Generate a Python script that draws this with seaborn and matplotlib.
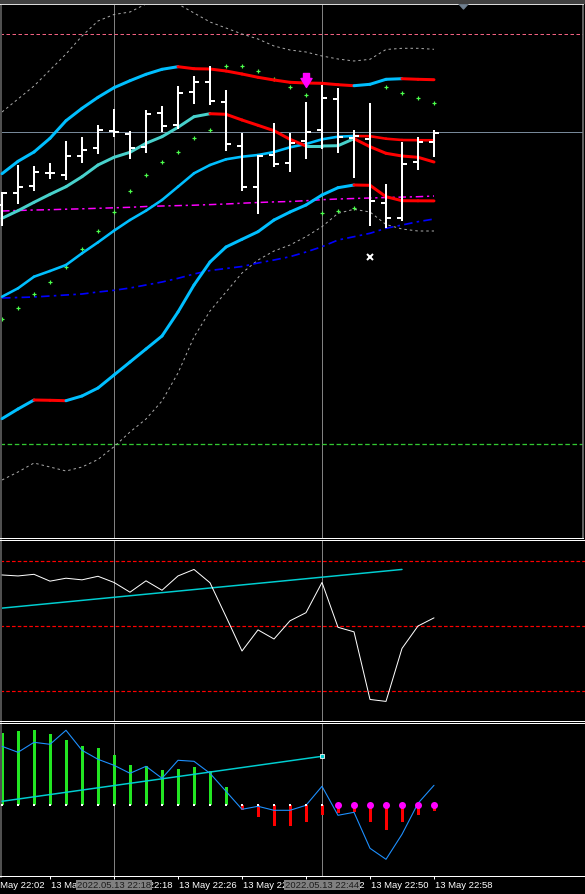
import numpy as np
import pandas as pd
import matplotlib
matplotlib.use("Agg")
import matplotlib.pyplot as plt
import seaborn as sns
from matplotlib.path import Path
from matplotlib.transforms import blended_transform_factory

# --- price window (arbitrary price units) ---
bar_open = [335, 347.3, 354.3, 366.7, 365.3, 384.3, 392.3, 409.3, 406.3, 393.3,
            426.7, 415.3, 448.3, 458.3, 438.3, 394.3, 353.3, 385.3, 377.3, 399.3,
            410, 441.3, 402.3, 401, 337, 322.3, 378, 398]
bar_high = [348, 375, 374, 377, 399, 403, 415, 431, 409, 430,
            434.3, 454, 464, 474, 449.7, 407, 385, 416.7, 407.3, 438,
            455, 451.7, 410, 436.7, 356, 398.3, 402.7, 409.7]
bar_low = [314, 336, 349.3, 361, 360, 377.3, 386.3, 403.3, 381.3, 387.3,
           408.3, 410.7, 436.3, 435.3, 389.3, 349.3, 326.3, 373.3, 368.3, 380.7,
           390.7, 387.3, 362.5, 314.3, 312.3, 319.3, 370, 383.3]
bar_close = [347, 353.3, 368.3, 366.7, 384.3, 390.3, 410.3, 408.3, 392.3, 426.3,
             414.3, 446.7, 458, 439, 396.3, 353.3, 384.3, 376.3, 396.7, 408.3,
             442.3, 403, 404, 339, 322, 376, 398, 407]

band_upper = [366.3, 378.7, 388, 401.7, 419.3, 431.7, 442.7, 452.3, 459.3, 465.7,
              470.7, 473.3, 471.3, 471, 469, 466, 462.7, 460, 457.7, 457,
              456.7, 455.3, 454.3, 455.7, 460.7, 461.3, 460.7, 460.3]
band_mid = [321.7, 329.3, 337.7, 345.7, 353.3, 363.3, 375, 382.7, 387.7, 396.7,
            403.3, 412.7, 423.3, 426.3, 425.7, 420, 414.7, 409.3, 400.7, 394,
            394, 394.3, 401.3, 393.3, 386.7, 384, 382.7, 378]
band_inner = [243.3, 251.7, 263.3, 269, 275, 286.7, 297.7, 309.3, 320, 329.3,
              340, 353.3, 366.7, 375, 380.7, 383.3, 385, 388, 392.7, 396,
              400.7, 403.3, 404, 403.8, 401.3, 400, 399.8, 399.7]
band_lower = [121.3, 131, 140, 139.7, 139.3, 144, 152, 165, 178, 191,
              204, 228, 255, 278, 293, 300.7, 308.3, 320, 328, 335,
              345, 352.3, 355, 354.7, 343.3, 339.3, 339.2, 339.1]
env_top = [428, 441, 454, 470, 486, 504, 519, 525.5, 528, 536,
           543, 536, 527, 518, 512, 506, 501, 494, 490, 488,
           484, 481, 479, 480.7, 490.5, 491.7, 491.7, 490.7]
env_bottom = [60, 68, 77, 73, 69, 73, 80.5, 93.3, 108, 121,
              139, 167, 203, 229, 248, 267, 280, 289, 295, 303.3,
              313.3, 326.7, 330.7, 328, 315.5, 311, 309, 309]
ma_magenta = [329, 329.5, 330, 330.3, 330.8, 331.2, 331.7, 332.2, 332.7, 333.5,
              334, 334.4, 334.8, 335.4, 336, 336.8, 337.5, 338.1, 338.5, 339.3,
              340.3, 341, 341.5, 342, 342.5, 342.9, 343.3, 344]
ma_blue = [242, 242.5, 243, 244, 245, 246, 248, 249.7, 252, 255,
           258, 261.7, 266, 269.5, 271.5, 273.5, 277, 280, 283.3, 288,
           293.3, 300, 303.3, 306.7, 311.7, 315, 318.3, 321]
sar = [221, 231.7, 245.7, 258.5, 272.7, 290.7, 309, 327.7, 348.7, 364.7,
       377.7, 387.7, 401.7, 409.7, 473.7, 473.7, 468.7, 460.7, 452.7, 444.7,
       326.7, 328.7, 331.7, np.nan, 452.7, 446.7, 441.7, 436.7]
level_high = 506
bid_level = 408
level_low = 95.7
sell_arrow_bar, sell_arrow_val = 19, 459.7
cross_bar, cross_val = 23, 282.7

# --- oscillator window 1 ---
rsi = [65.7, 65.4, 65.9, 63.8, 64.7, 64.2, 65.3, 63.4, 60.4, 63.9,
       61.0, 65.4, 67.4, 63.3, 52.9, 42.3, 48.8, 46.0, 51.6, 54.1,
       63.4, 49.6, 48.2, 27.4, 26.8, 43.1, 50.0, 52.5]
rsi_levels = [70, 50, 30]
rsi_trend_bars = [0, 25]
rsi_trend_vals = [55.5, 67.4]

# --- oscillator window 2 ---
osc_hist = [7.2, 7.4, 7.5, 7.1, 6.5, 5.9, 5.7, 5.0, 4.0, 3.9,
            3.5, 3.6, 3.8, 3.4, 1.8, -0.5, -1.2, -2.1, -2.1, -1.7,
            -1.0, -0.8, -0.7, -1.7, -2.5, -1.7, -1.0, -0.6]
osc_line = [5.9, 5.3, 6.3, 6.1, 7.5, 5.5, 4.6, 4.0, 3.2, 3.9,
            2.7, 4.5, 4.4, 3.2, 1.4, -0.4, -0.1, -0.5, -0.5, 0.0,
            1.9, -1.0, -0.7, -4.3, -5.4, -2.9, 0.2, 2.0]
zero_flag = [0, 0, 0, 0, 0, 0, 0, 0, 0, 0,
             0, 0, 0, 0, 0, 0, 0, 0, 0, 0,
             0, 1, 1, 1, 1, 1, 1, 1]
osc_trend_bars = [0, 20]
osc_trend_vals = [0.4, 4.9]

# --- time axis ---
time_label_bars = [-1, 3, 7, 11, 15, 19, 23, 27]
time_labels = ["13 May 22:02", "13 May 22:10", "13 May 22:18", "13 May 22:26",
               "13 May 22:34", "13 May 22:42", "13 May 22:50", "13 May 22:58"]
grid_bars = [7, 20]
grid_labels = ["2022.05.13 22:18", "2022.05.13 22:44"]

W, H, DPI = 585, 894, 100
PX = 72 / DPI
BAR_PX = 16

sns.set_theme(style="dark", rc={"figure.facecolor": "black", "axes.facecolor": "black",
                                "savefig.facecolor": "black"})
plt.rcParams["font.family"] = ["Liberation Sans", "DejaVu Sans"]

fig = plt.figure(figsize=(W / DPI, H / DPI), dpi=DPI)
idx = np.arange(len(bar_open))


def make_axes(top, bottom, width, ylim):
    ax = fig.add_axes([0, 1 - bottom / H, width / W, (bottom - top) / H])
    ax.set_facecolor("black")
    ax.set_xlim(-2 / BAR_PX, (width - 2) / BAR_PX)
    ax.set_ylim(*ylim)
    ax.set_xticks([])
    ax.set_yticks([])
    for side in ("top", "bottom"):
        ax.spines[side].set_color("white")
        ax.spines[side].set_linewidth(PX)
    ax.spines["left"].set_color("#505050")
    ax.spines["left"].set_linewidth(3 * PX)
    ax.spines["right"].set_visible(False)
    for b in grid_bars:
        ax.axvline(b, color="#808080", lw=PX, zorder=1)
    return ax


def slope_line(ax, vals, up, down, lw, z=3):
    for i in range(len(vals) - 1):
        c = up if vals[i + 1] >= vals[i] else down
        ax.plot([i, i + 1], [vals[i], vals[i + 1]], color=c, lw=lw,
                solid_capstyle="round", zorder=z)


# ---------------- main window ----------------
ax = make_axes(4, 538, 583, (2, 536))
ax.spines["right"].set_visible(True)
ax.spines["right"].set_color("#808080")
ax.spines["right"].set_linewidth(1.5 * PX)

ax.axhline(level_high, color="#f06080", lw=PX, dashes=(3.5, 2.5), zorder=1)
ax.axhline(bid_level, color="#778899", lw=PX, zorder=1)
ax.axhline(level_low, color="#32c832", lw=1.3 * PX, dashes=(3.5, 2), zorder=1)

ax.plot(idx, env_top, color="#a8a8a8", lw=PX, dashes=(2.5, 3), zorder=2)
ax.plot(idx, env_bottom, color="#a8a8a8", lw=PX, dashes=(2.5, 3), zorder=2)
ax.plot(idx, ma_magenta, color="#ff00ff", lw=1.5 * PX, dashes=(5, 2.5, 1.5, 2.5), zorder=2)
ax.plot(idx, ma_blue, color="#0000ff", lw=1.7 * PX, dashes=(5, 2.5, 1.5, 2.5), zorder=2)

slope_line(ax, band_lower, "#00bfff", "#ff0000", 3 * PX)
slope_line(ax, band_inner, "#00bfff", "#ff0000", 2.6 * PX)
slope_line(ax, band_mid, "#48d1cc", "#ff0000", 3 * PX, z=3.2)
slope_line(ax, band_upper, "#00bfff", "#ff0000", 3 * PX)

ax.plot(idx, sar, linestyle="none", marker="+", ms=4 * PX, mew=1.2 * PX,
        color="#4cff4c", zorder=2.5)

ax.vlines(idx, bar_low, bar_high, color="white", lw=2 * PX, zorder=4)
ax.hlines(bar_open, idx - 0.3, idx, color="white", lw=2 * PX, zorder=4, capstyle="butt")
ax.hlines(bar_close, idx, idx + 0.3, color="white", lw=2 * PX, zorder=4, capstyle="butt")

arrow = Path([(-0.43, 1), (0.43, 1), (0.43, 0.29), (0.79, 0.29), (0, -1),
              (-0.79, 0.29), (-0.43, 0.29), (-0.43, 1)],
             [Path.MOVETO] + [Path.LINETO] * 6 + [Path.CLOSEPOLY])
ax.plot([sell_arrow_bar], [sell_arrow_val], linestyle="none", marker=arrow,
        ms=14 * PX, color="#ff00ff", mec="#ff00ff", zorder=5)
ax.plot([cross_bar], [cross_val], linestyle="none", marker="x", ms=6 * PX,
        mew=2 * PX, color="white", zorder=5)

shift_tri = Path([(-1, 0.55), (1, 0.55), (0, -0.55), (-1, 0.55)],
                 [Path.MOVETO, Path.LINETO, Path.LINETO, Path.CLOSEPOLY])
ax.plot([28.8], [0.9966], transform=blended_transform_factory(ax.transData, ax.transAxes),
        marker=shift_tri, ms=9 * PX, color="#708090", linestyle="none",
        clip_on=False, zorder=6)

# ---------------- RSI window ----------------
ax1 = make_axes(540, 721, W, (20.77, 76.46))
for lv in rsi_levels:
    ax1.axhline(lv, color="#ff0000", lw=1.2 * PX, dashes=(3, 1.8), zorder=1)
ax1.plot(rsi_trend_bars, rsi_trend_vals, color="#00ced1", lw=1.5 * PX, zorder=2)
sns.lineplot(x=idx, y=rsi, ax=ax1, color="white", lw=PX, zorder=3)
ax1.set(xlabel="", ylabel="")

# ---------------- histogram window ----------------
ax2 = make_axes(723, 876, W, (-7.07, 8.23))
hist_colors = ["#22e622" if v > 0 else "#ff0000" for v in osc_hist]
ax2.bar(idx, osc_hist, width=3 / BAR_PX, color=hist_colors, edgecolor="none",
        linewidth=0, zorder=2)
ax2.plot(osc_trend_bars, osc_trend_vals, color="#00ced1", lw=1.5 * PX, zorder=3)
ax2.plot(osc_trend_bars[-1:], osc_trend_vals[-1:], marker="s", ms=5 * PX,
         color="#00ced1", mec="white", mew=0.8 * PX, linestyle="none", zorder=6)
sns.lineplot(x=idx, y=osc_line, ax=ax2, color="#1e90ff", lw=1.1 * PX, zorder=4)
ax2.set(xlabel="", ylabel="")
flags = np.array(zero_flag)
ax2.plot(idx[flags == 0], np.zeros((flags == 0).sum()), linestyle="none", marker="s",
         ms=2.2 * PX, color="white", mew=0, zorder=5)
ax2.plot(idx[flags == 1], np.zeros((flags == 1).sum()), linestyle="none", marker="o",
         ms=7 * PX, color="#ff00ff", mew=0, zorder=5)

ax2.set_xticks([b for b in time_label_bars if b >= 0])
ax2.tick_params(axis="x", bottom=True, direction="out", length=3 * PX, width=PX,
                color="white", labelbottom=False)

label_tr = blended_transform_factory(ax2.transData, fig.transFigure)
y_lab = 1 - 885 / H
for b, t in zip(time_label_bars, time_labels):
    ax2.text(b + 0.06, y_lab, t, transform=label_tr, ha="left", va="center",
             fontsize=6.8, color="white", clip_on=False, zorder=4)
for b, t in zip(grid_bars, grid_labels):
    ax2.text(b, y_lab, t, transform=label_tr, ha="center", va="center",
             fontsize=6.8, color="#1c1c1c", clip_on=False, zorder=7,
             bbox=dict(boxstyle="square,pad=0.08", fc="#808080", ec="none"))

fig.add_artist(plt.Rectangle((0, 1 - 3 / H), 1, 3 / H, transform=fig.transFigure,
                             color="#404040", zorder=10))

fig.savefig("out.png", dpi=DPI, facecolor="black")
